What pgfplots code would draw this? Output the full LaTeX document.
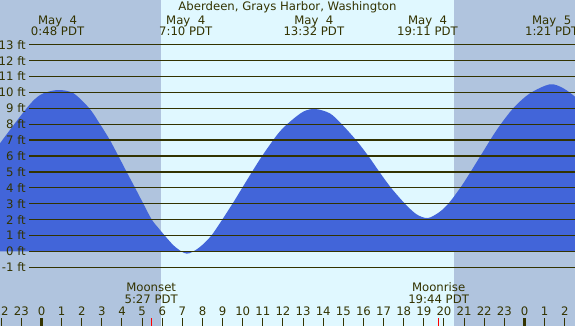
\documentclass[border=0pt]{standalone}
\usepackage{pgfplots}
\pgfplotsset{compat=1.18}
\usepackage{fontspec}
\setmainfont{DejaVu Sans}
\definecolor{night}{HTML}{B0C4DE}
\definecolor{day}{HTML}{E0F8FF}
\definecolor{water}{HTML}{4265D9}
\definecolor{ink}{HTML}{333300}
\newcommand\hr[2]{%
  \node[anchor=base, inner sep=0pt, text=ink] at (axis cs:#1,-4.06) {#2};
  \draw[ink, line width=1pt] (axis cs:#1,-4.19) -- (axis cs:#1,-4.75);}
\newcommand\hrm[1]{%
  \node[anchor=base, inner sep=0pt, text=ink] at (axis cs:#1,-4.06) {0};
  \draw[ink, line width=3pt] (axis cs:#1,-4.19) -- (axis cs:#1,-4.75);}
\newcommand\ev[3]{%
  \node[anchor=base, inner sep=0pt, text=ink] at (axis cs:#1,14.28) {#2};
  \node[anchor=base, inner sep=0pt, text=ink] at (axis cs:#1,13.55) {#3};}
\begin{document}
\begin{tikzpicture}[every node/.style={font=\fontsize{11.7}{13}\selectfont}]
\begin{axis}[scale only axis, width=575pt, height=326pt,
  xmin=-2.062, xmax=26.51, ymin=-4.69, ymax=15.81,
  axis lines=none, clip=true]
% day / night background
\fill[night] (axis cs:-2.062,-4.69) rectangle (axis cs:5.94,15.81);
\fill[day] (axis cs:5.94,-4.69) rectangle (axis cs:20.497,15.81);
\fill[night] (axis cs:20.497,-4.69) rectangle (axis cs:26.51,15.81);
% tide
\addplot[draw=none, fill=water, smooth] coordinates {
(-2.062,6.8) (-1.07,8.47) (-0.41,9.48) (0.09,9.94) (0.83,10.15) (1.58,9.95)
(2.375,9.0) (2.91,8.0) (3.40,7.0) (3.82,6.0) (4.23,5.0) (4.65,4.0) (5.06,3.0)
(5.48,2.0) (5.89,1.35) (6.14,0.97) (6.63,0.3) (7.21,-0.14) (7.79,0.2) (8.46,1.03)
(9.45,2.92) (10.11,4.28) (10.94,5.96) (11.77,7.43) (12.35,8.16) (13.01,8.79)
(13.59,8.96) (14.33,8.68) (14.92,8.0) (15.63,7.0) (16.24,6.0) (16.79,5.0)
(17.37,4.0) (18.06,3.0) (18.64,2.33) (19.2,2.1) (19.8,2.5) (20.3,3.13)
(20.96,4.28) (21.79,5.96) (22.62,7.64) (23.44,9.0) (24.27,9.94) (25.27,10.51)
(25.93,10.26) (26.51,9.73)
} \closedcycle;
% horizontal lines and labels
\pgfplotsinvokeforeach{-1,...,13}{
  \draw[ink, line width=1.2pt] (axis cs:-0.62,#1) -- (axis cs:26.6,#1);
  \node[anchor=east, inner sep=0pt, text=ink] at (axis cs:-0.77,#1) {#1 ft};
}
% title and events
\node[anchor=base, inner sep=0pt, text=ink] at (axis cs:12.22,15.12) {Aberdeen, Grays Harbor, Washington};
\ev{0.8}{May\ \ 4}{0:48 PDT}
\ev{7.167}{May\ \ 4}{7:10 PDT}
\ev{13.533}{May\ \ 4}{13:32 PDT}
\ev{19.183}{May\ \ 4}{19:11 PDT}
\ev{25.35}{May\ \ 5}{1:21 PDT}
% moon
\node[anchor=base, inner sep=0pt, text=ink] at (axis cs:5.45,-2.54) {Moonset};
\node[anchor=base, inner sep=0pt, text=ink] at (axis cs:5.45,-3.26) {5:27 PDT};
\node[anchor=base, inner sep=0pt, text=ink] at (axis cs:19.733,-2.54) {Moonrise};
\node[anchor=base, inner sep=0pt, text=ink] at (axis cs:19.733,-3.26) {19:44 PDT};
\draw[red, line width=1pt] (axis cs:5.45,-4.19) -- (axis cs:5.45,-4.75);
\draw[red, line width=1pt] (axis cs:19.733,-4.19) -- (axis cs:19.733,-4.75);
% hour ticks
\hr{-2}{22}\hr{-1}{23}\hrm{0}\hr{1}{1}\hr{2}{2}\hr{3}{3}\hr{4}{4}\hr{5}{5}
\hr{6}{6}\hr{7}{7}\hr{8}{8}\hr{9}{9}\hr{10}{10}\hr{11}{11}\hr{12}{12}
\hr{13}{13}\hr{14}{14}\hr{15}{15}\hr{16}{16}\hr{17}{17}\hr{18}{18}\hr{19}{19}
\hr{20}{20}\hr{21}{21}\hr{22}{22}\hr{23}{23}\hrm{24}\hr{25}{1}\hr{26}{2}
\end{axis}
\pgfresetboundingbox
\useasboundingbox (current axis.south west) rectangle (current axis.north east);
\end{tikzpicture}
\end{document}
